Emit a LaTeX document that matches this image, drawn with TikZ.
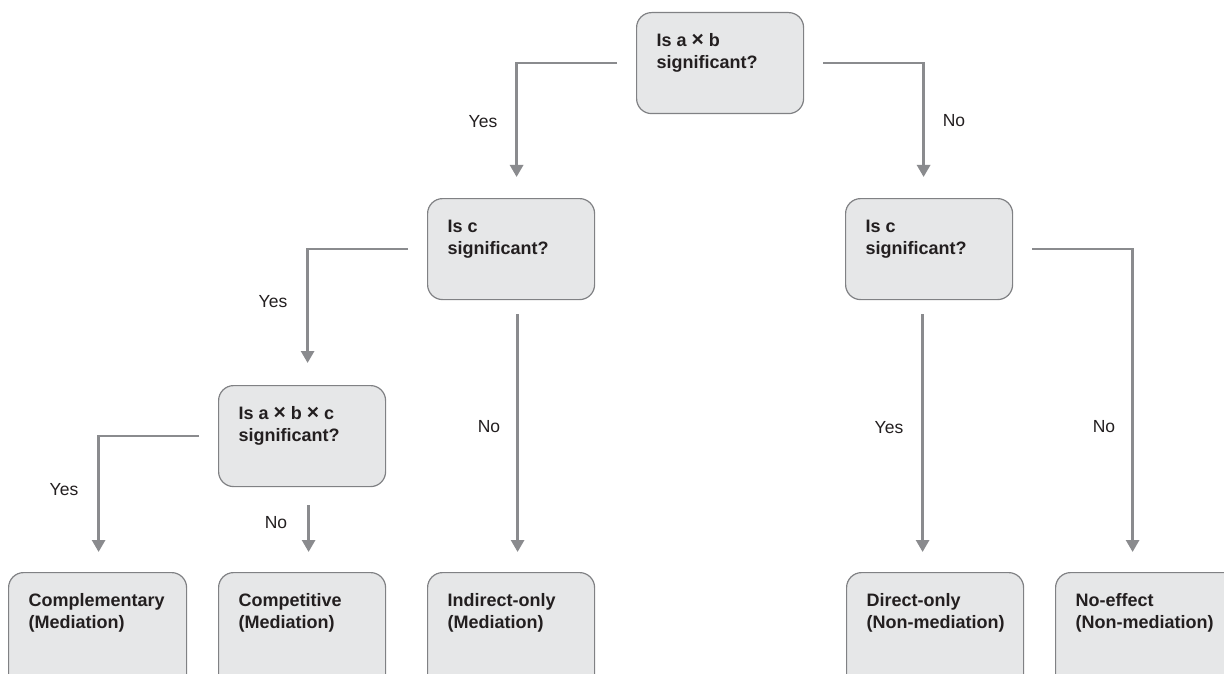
\documentclass[tikz,border=0pt]{standalone}
\usepackage{fontspec}
\setmainfont{Liberation Sans}
\usetikzlibrary{arrows.meta,calc}
\definecolor{boxfill}{RGB}{230,231,232}
\definecolor{boxline}{RGB}{128,129,132}
\definecolor{arrcol}{RGB}{138,139,142}
\definecolor{txt}{RGB}{35,31,32}
\newcommand{\bxt}[3]{\parbox[c][#2pt][t]{#1pt}{\fontsize{18}{22}\selectfont\bfseries\raggedright\hyphenpenalty=10000\exhyphenpenalty=10000\rule{0pt}{34pt}#3}}
\newcommand{\tms}{{\fontsize{21}{22}\selectfont ×}}
\tikzset{
  box/.style={draw=boxline, line width=1.2pt, fill=boxfill, rounded corners=15pt,
    inner xsep=20pt, inner ysep=0pt, anchor=north west, text=txt},
  conn/.style={draw=arrcol, line width=2.7pt, -{Triangle[width=13pt,length=12pt]}},
  lbl/.style={text=txt, font=\fontsize{17.5}{20}\selectfont, inner sep=0pt}
}
\begin{document}
\begin{tikzpicture}[x=1pt,y=-1pt]
\useasboundingbox (0,0) rectangle (1224,674);
\fill[white] (0,0) rectangle (1224,674);
\clip (0,0) rectangle (1224,674);
% boxes
\node[box] (top) at (636,12) {\bxt{127}{101}{Is a \tms{} b\\significant?}};
\node[box] (iscL) at (427,198) {\bxt{127}{101}{Is c\\significant?}};
\node[box] (iscR) at (845,198) {\bxt{127}{101}{Is c\\significant?}};
\node[box] (abc) at (218,385) {\bxt{127}{101}{Is a \tms{} b \tms{} c\\significant?}};
\node[box] (comp) at (8,572) {\bxt{138}{130}{Complementary\\(Mediation)}};
\node[box] (compet) at (218,572) {\bxt{127}{130}{Competitive\\(Mediation)}};
\node[box] (indirect) at (427,572) {\bxt{127}{130}{Indirect-only\\(Mediation)}};
\node[box] (direct) at (846,572) {\bxt{137}{130}{Direct-only\\(Non-mediation)}};
\node[box] (noeffect) at (1055,572) {\bxt{145}{130}{No-effect\\(Non-mediation)}};
% connectors
\draw[conn] ($(top.west)+(-19,0)$) -| ($(iscL.north)+(5.5,-21)$);
\draw[conn] ($(top.east)+(19,0)$) -| ($(iscR.north)+(-5.5,-21)$);
\draw[conn] ($(iscL.west)+(-19,0)$) -| ($(abc.north)+(5.5,-22)$);
\draw[conn] ($(iscL.south)+(6.5,14)$) -- ($(indirect.north)+(6.5,-20)$);
\draw[conn] ($(iscR.south)+(-6.5,14)$) -- ($(direct.north)+(-12.5,-20)$);
\draw[conn] ($(iscR.east)+(19,0)$) -| ($(noeffect.north)+(-15.5,-20)$);
\draw[conn] ($(abc.west)+(-19,0)$) -| ($(comp.north)+(1,-20)$);
\draw[conn] ($(abc.south)+(6.5,18)$) -- ($(compet.north)+(6.5,-20)$);
% labels
\node[lbl] (l1) at (483,122) {Yes};
\node[lbl] (l2) at (954,121) {No};
\node[lbl] (l3) at (273,302) {Yes};
\node[lbl] (l4) at (489,427) {No};
\node[lbl] (l5) at (889,428) {Yes};
\node[lbl] (l6) at (1104,427) {No};
\node[lbl] (l7) at (64,490) {Yes};
\node[lbl] (l8) at (276,523) {No};
\end{tikzpicture}
\end{document}
